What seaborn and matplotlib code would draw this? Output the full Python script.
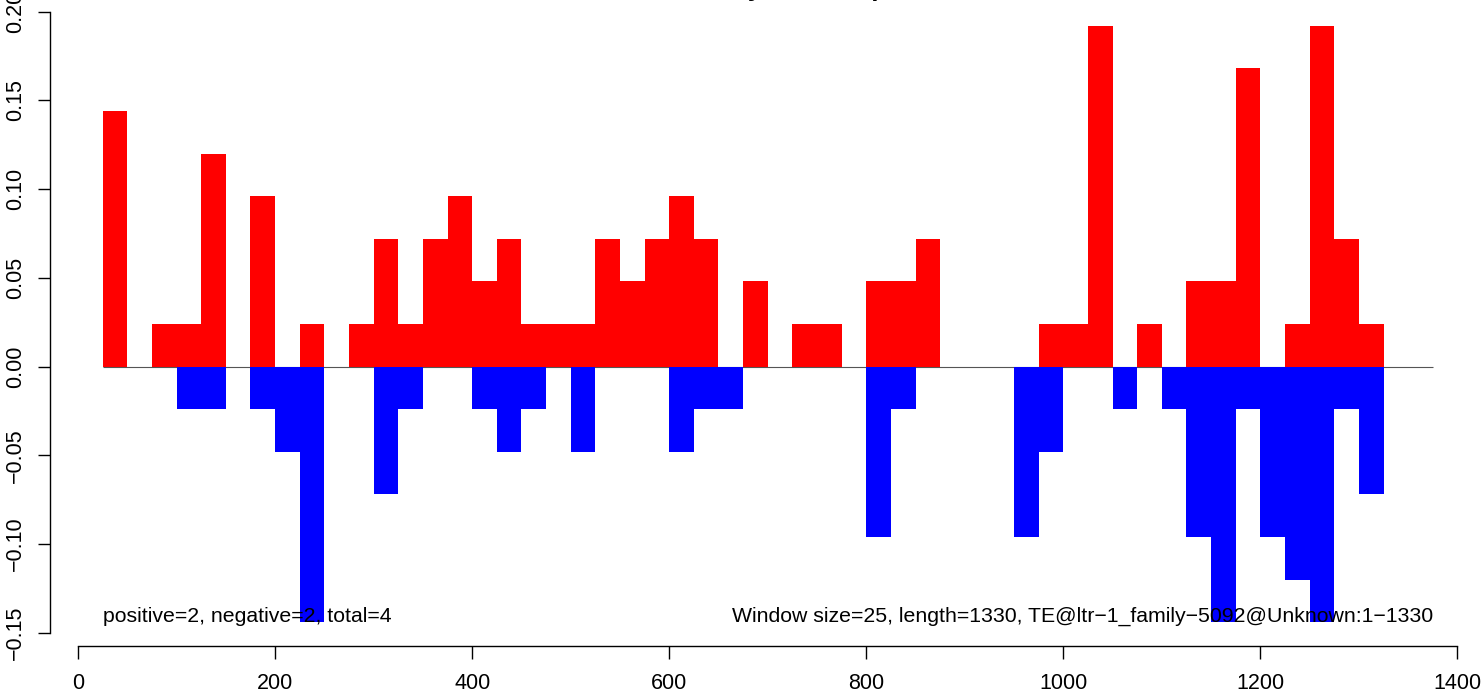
import matplotlib
matplotlib.use("Agg")
import pandas as pd
import matplotlib.pyplot as plt
import seaborn as sns

# window starts (window size 25), bars are centred in each window
window_starts = list(range(25, 1325, 25))

# forward-strand signal (red, above zero)
plus_values = [0.144, 0, 0.024, 0.024, 0.120, 0, 0.096, 0, 0.024, 0,
               0.024, 0.072, 0.024, 0.072, 0.096, 0.048, 0.072, 0.024, 0.024, 0.024,
               0.072, 0.048, 0.072, 0.096, 0.072, 0, 0.048, 0, 0.024, 0.024,
               0, 0.048, 0.048, 0.072, 0, 0, 0, 0, 0.024, 0.024,
               0.192, 0, 0.024, 0, 0.048, 0.048, 0.168, 0, 0.024, 0.192,
               0.072, 0.024]

# reverse-strand signal (blue, below zero)
minus_values = [0, 0, 0, -0.024, -0.024, 0, -0.024, -0.048, -0.144, 0,
                0, -0.072, -0.024, 0, 0, -0.024, -0.048, -0.024, 0, -0.048,
                0, 0, 0, -0.048, -0.024, -0.024, 0, 0, 0, 0,
                0, -0.096, -0.024, 0, 0, 0, 0, -0.096, -0.048, 0,
                0, -0.024, 0, -0.024, -0.096, -0.144, -0.024, -0.096, -0.120, -0.144,
                -0.024, -0.072]

title = "ltr-1_family_5092 depth"
left_note = "positive=2, negative=2, total=4"
right_note = "Window size=25, length=1330, TE@ltr\u22121_family\u22125092@Unknown:1\u22121330"

df = pd.DataFrame({
    "pos": [s + 12.5 for s in window_starts],
    "plus": plus_values,
    "minus": minus_values,
})

sns.set_style("ticks")
plt.rcParams["font.family"] = ["Liberation Sans", "DejaVu Sans"]
plt.rcParams["text.color"] = "black"
plt.rcParams["xtick.color"] = "black"
plt.rcParams["ytick.color"] = "black"
plt.rcParams["axes.labelcolor"] = "black"

fig = plt.figure(figsize=(14.83, 6.94), dpi=100)
ax = fig.add_axes([49.5 / 1483, 48 / 694, 1436.5 / 1483, 644 / 694])

ax.hlines(0, 25, 1375, color="#555555", lw=0.8, zorder=0.5)
sns.barplot(data=df, x="pos", y="plus", native_scale=True, width=1, color="#FF0000",
            saturation=1, errorbar=None, linewidth=0, antialiased=False, ax=ax)
sns.barplot(data=df, x="pos", y="minus", native_scale=True, width=1, color="#0000FF",
            saturation=1, errorbar=None, linewidth=0, antialiased=False, ax=ax)

ax.set_xlim(-29, 1429)
ax.set_ylim(-0.1574, 0.2054)
ax.set_xticks(range(0, 1401, 200))
ax.set_yticks([-0.15, -0.10, -0.05, 0.00, 0.05, 0.10, 0.15, 0.20])
ax.set_yticklabels(["\u22120.15", "\u22120.10", "\u22120.05", "0.00", "0.05", "0.10", "0.15", "0.20"],
                   rotation=90, va="center")
ax.set_xlabel("")
ax.set_ylabel("")
ax.tick_params(axis="both", direction="out", length=9, width=1, labelsize=15.5,
               color="black", labelcolor="black")
ax.tick_params(axis="x", pad=10.5)
ax.tick_params(axis="y", pad=8)

for side in ["top", "right"]:
    ax.spines[side].set_visible(False)
ax.spines["left"].set_bounds(-0.15, 0.20)
ax.spines["bottom"].set_bounds(0, 1400)
for side in ["left", "bottom"]:
    ax.spines[side].set_linewidth(1)
    ax.spines[side].set_color("black")

ax.text(25, -0.1405, left_note, ha="left", va="center", fontsize=15.3, color="black", zorder=5)
ax.text(1375, -0.1405, right_note, ha="right", va="center", fontsize=15.3, color="black", zorder=5)

fig.text(768 / 1483, 1 + 4 / 694, title, ha="center", va="baseline",
         fontsize=18.6, fontweight="bold", color="black")

fig.savefig("out.png", dpi=100)
